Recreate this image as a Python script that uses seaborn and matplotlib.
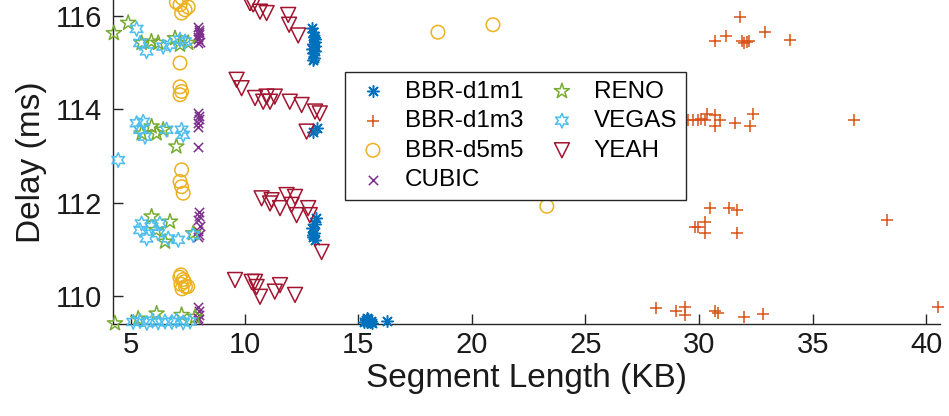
import matplotlib
matplotlib.use("Agg")
import matplotlib.pyplot as plt
import seaborn as sns

sns.set_theme(style="white")
plt.rcParams["font.family"] = ["Liberation Sans", "DejaVu Sans"]

# Segment length (KB) and delay (ms) per congestion-control variant
bbr_d1m1_x = [12.95, 13.0, 13.05, 13.1, 13.0, 13.08, 12.98, 13.12, 13.02, 13.06, 13.0, 13.1,
              13.0, 13.18,
              13.14, 13.0, 13.05, 12.98, 13.1, 13.02, 13.08,
              15.25, 15.35, 15.4, 15.45, 15.5, 15.55, 15.6, 15.38, 16.25]
bbr_d1m1_y = [115.75, 115.65, 115.55, 115.45, 115.4, 115.35, 115.3, 115.25, 115.2, 115.1, 115.05, 115.5,
              113.51, 113.6,
              111.66, 111.26, 111.35, 111.45, 111.55, 111.3, 111.2,
              109.45, 109.48, 109.43, 109.5, 109.44, 109.47, 109.42, 109.52, 109.47]

bbr_d1m3_x = [31.79, 30.69, 31.18, 31.91, 32.09, 32.2, 31.98, 32.89, 33.99,
              29.52, 29.74, 29.96, 30.1, 30.25, 30.35, 30.7, 30.72, 30.91, 31.6, 32.23, 32.37, 36.8,
              30.5, 31.31, 31.69, 29.81, 29.96, 30.25, 30.28, 31.67, 38.29,
              28.1, 28.98, 29.37, 29.37, 30.72, 30.84, 31.98, 32.82, 40.52]
bbr_d1m3_y = [115.97, 115.47, 115.56, 115.47, 115.45, 115.47, 115.42, 115.65, 115.49,
              113.77, 113.77, 113.77, 113.78, 113.77, 113.9, 113.88, 113.64, 113.76, 113.71, 113.65, 113.9, 113.77,
              111.88, 111.88, 111.84, 111.48, 111.48, 111.59, 111.35, 111.34, 111.62,
              109.73, 109.67, 109.76, 109.59, 109.68, 109.64, 109.55, 109.62, 109.76]

bbr_d5m5_x = [7.16, 7.38, 7.52, 7.23, 7.0, 7.25,
              7.16, 7.16, 7.23, 7.16,
              7.23, 7.16, 7.23, 7.3,
              7.15, 7.3, 7.2, 7.4, 7.25, 7.35, 7.5, 7.2,
              18.51, 20.93, 23.3]
bbr_d5m5_y = [116.24, 116.13, 116.19, 116.06, 116.29, 116.38,
              114.99, 114.48, 114.38, 114.31,
              112.7, 112.45, 112.34, 112.2,
              110.4, 110.35, 110.25, 110.2, 110.15, 110.3, 110.2, 110.45,
              115.65, 115.81, 111.92]

cubic_x = [7.95, 7.98, 8.0, 7.93, 7.97, 8.02, 7.96, 7.99,
           7.95, 7.98, 8.0, 7.94, 7.97, 7.96,
           7.98, 8.0, 7.95, 8.02, 7.97, 7.99, 7.96,
           7.96, 7.99, 8.01, 7.94, 7.97]
cubic_y = [115.77, 115.7, 115.62, 115.55, 115.5, 115.45, 115.42, 115.65,
           113.92, 113.85, 113.78, 113.7, 113.62, 113.2,
           111.8, 111.72, 111.62, 111.5, 111.4, 111.3, 111.26,
           109.76, 109.68, 109.6, 109.52, 109.48]

reno_x = [4.25, 4.88, 5.47, 5.9, 6.2, 6.94, 7.16, 7.52,
          5.47, 5.91, 6.13, 6.42, 7.0,
          5.91, 6.72, 6.5, 7.74, 6.12,
          4.3, 5.32, 6.13, 7.23, 7.82]
reno_y = [115.63, 115.85, 115.42, 115.45, 115.42, 115.52, 115.38, 115.42,
          113.48, 113.63, 113.48, 113.56, 113.2,
          111.7, 111.59, 111.16, 111.34, 111.41,
          109.41, 109.51, 109.62, 109.59, 109.55]

vegas_x = [5.25, 5.4, 5.69, 6.42, 6.72, 7.16, 7.38,
           5.25, 5.54, 5.4, 5.62, 6.57, 7.23, 7.3, 4.44,
           5.47, 5.4, 5.69, 5.91, 6.2, 6.27, 6.64, 7.08, 7.74,
           5.1, 5.4, 5.7, 5.95, 6.2, 6.5, 6.8, 7.0, 7.3, 7.6]
vegas_y = [115.72, 115.42, 115.24, 115.34, 115.38, 115.49, 115.45,
           113.7, 113.73, 113.56, 113.41, 113.56, 113.56, 113.45, 112.91,
           111.55, 111.41, 111.23, 111.48, 111.34, 111.55, 111.23, 111.2, 111.3,
           109.44, 109.46, 109.42, 109.47, 109.43, 109.45, 109.44, 109.47, 109.43, 109.45]

yeah_x = [10.24, 10.38, 10.68, 10.97, 11.92, 11.96, 12.36,
          9.65, 9.87, 10.46, 10.82, 11.12, 10.97, 11.33, 11.99, 12.51, 13.1, 13.31, 12.73,
          10.75, 11.12, 11.85, 12.22, 11.56, 12.07, 12.29, 12.8, 12.87, 13.39, 11.19,
          9.58, 10.31, 10.46, 10.53, 10.68, 11.33, 11.56, 12.22]
yeah_y = [116.27, 116.24, 116.09, 116.06, 116.02, 115.81, 115.58,
          114.63, 114.45, 114.24, 114.16, 114.16, 114.27, 114.27, 114.16, 114.09, 113.95, 113.91, 113.52,
          112.09, 111.98, 112.16, 112.12, 111.88, 111.95, 111.73, 111.88, 111.73, 110.94, 112.05,
          110.34, 110.3, 110.3, 110.19, 109.98, 110.09, 110.23, 110.02]

x_ticks = [5, 10, 15, 20, 25, 30, 35, 40]
y_ticks = [110, 112, 114, 116]

fig = plt.figure(figsize=(9.49, 4.16), dpi=100)
ax = fig.add_axes([0.1188, 0.2204, 0.8717, 0.7796])

series = [
    ("BBR-d1m1", bbr_d1m1_x, bbr_d1m1_y, (8, 2, 0), "#0072BD", False, 70),
    ("BBR-d1m3", bbr_d1m3_x, bbr_d1m3_y, "+", "#D95319", False, 75),
    ("BBR-d5m5", bbr_d5m5_x, bbr_d5m5_y, "o", "#EDB120", True, 95),
    ("CUBIC", cubic_x, cubic_y, "x", "#7E2F8E", False, 45),
    ("RENO", reno_x, reno_y, "*", "#77AC30", True, 130),
    ("VEGAS", vegas_x, vegas_y, (6, 1, 0), "#4DBEEE", True, 110),
    ("YEAH", yeah_x, yeah_y, "v", "#A2142F", True, 115),
]

for label, xs, ys, mk, col, open_face, size in series:
    kw = dict(x=xs, y=ys, marker=mk, s=size, linewidth=1.1, ax=ax,
              label=label, clip_on=False, zorder=3)
    if open_face:
        kw.update(facecolors="none", edgecolor=col, color=col)
    else:
        kw.update(color=col)
    sns.scatterplot(**kw)

ax.set_xlim(4.2, 40.6)
ax.set_ylim(109.39, 116.34)
ax.set_xticks(x_ticks)
ax.set_yticks(y_ticks)
ax.set_xticklabels([str(v) for v in x_ticks])
ax.set_yticklabels([str(v) for v in y_ticks])

axis_col = "#262626"
for side in ("top", "right"):
    ax.spines[side].set_visible(False)
for side in ("left", "bottom"):
    ax.spines[side].set_color(axis_col)
    ax.spines[side].set_linewidth(1.0)
ax.tick_params(axis="both", direction="in", length=7, width=1.0, color=axis_col,
               labelsize=21, labelcolor="#1a1a1a", pad=8,
               bottom=True, left=True)
ax.tick_params(axis="x", pad=5)

ax.set_xlabel("Segment Length (KB)", fontsize=24, color="#1a1a1a", labelpad=3)
ax.set_ylabel("Delay (ms)", fontsize=24, color="#1a1a1a", labelpad=6)

leg = ax.legend(ncol=2, loc="upper left", bbox_to_anchor=(345 / 949, 1 - 72 / 416),
                bbox_transform=fig.transFigure, fontsize=17.5, frameon=True,
                fancybox=False, framealpha=1, edgecolor=axis_col,
                borderpad=0.35, labelspacing=0.31, handletextpad=0.5,
                columnspacing=0.8, handlelength=1.6, borderaxespad=0)
leg.get_frame().set_linewidth(1.0)
leg.set_zorder(5)
for t in leg.get_texts():
    t.set_color("black")

fig.savefig("out.png", dpi=100)
